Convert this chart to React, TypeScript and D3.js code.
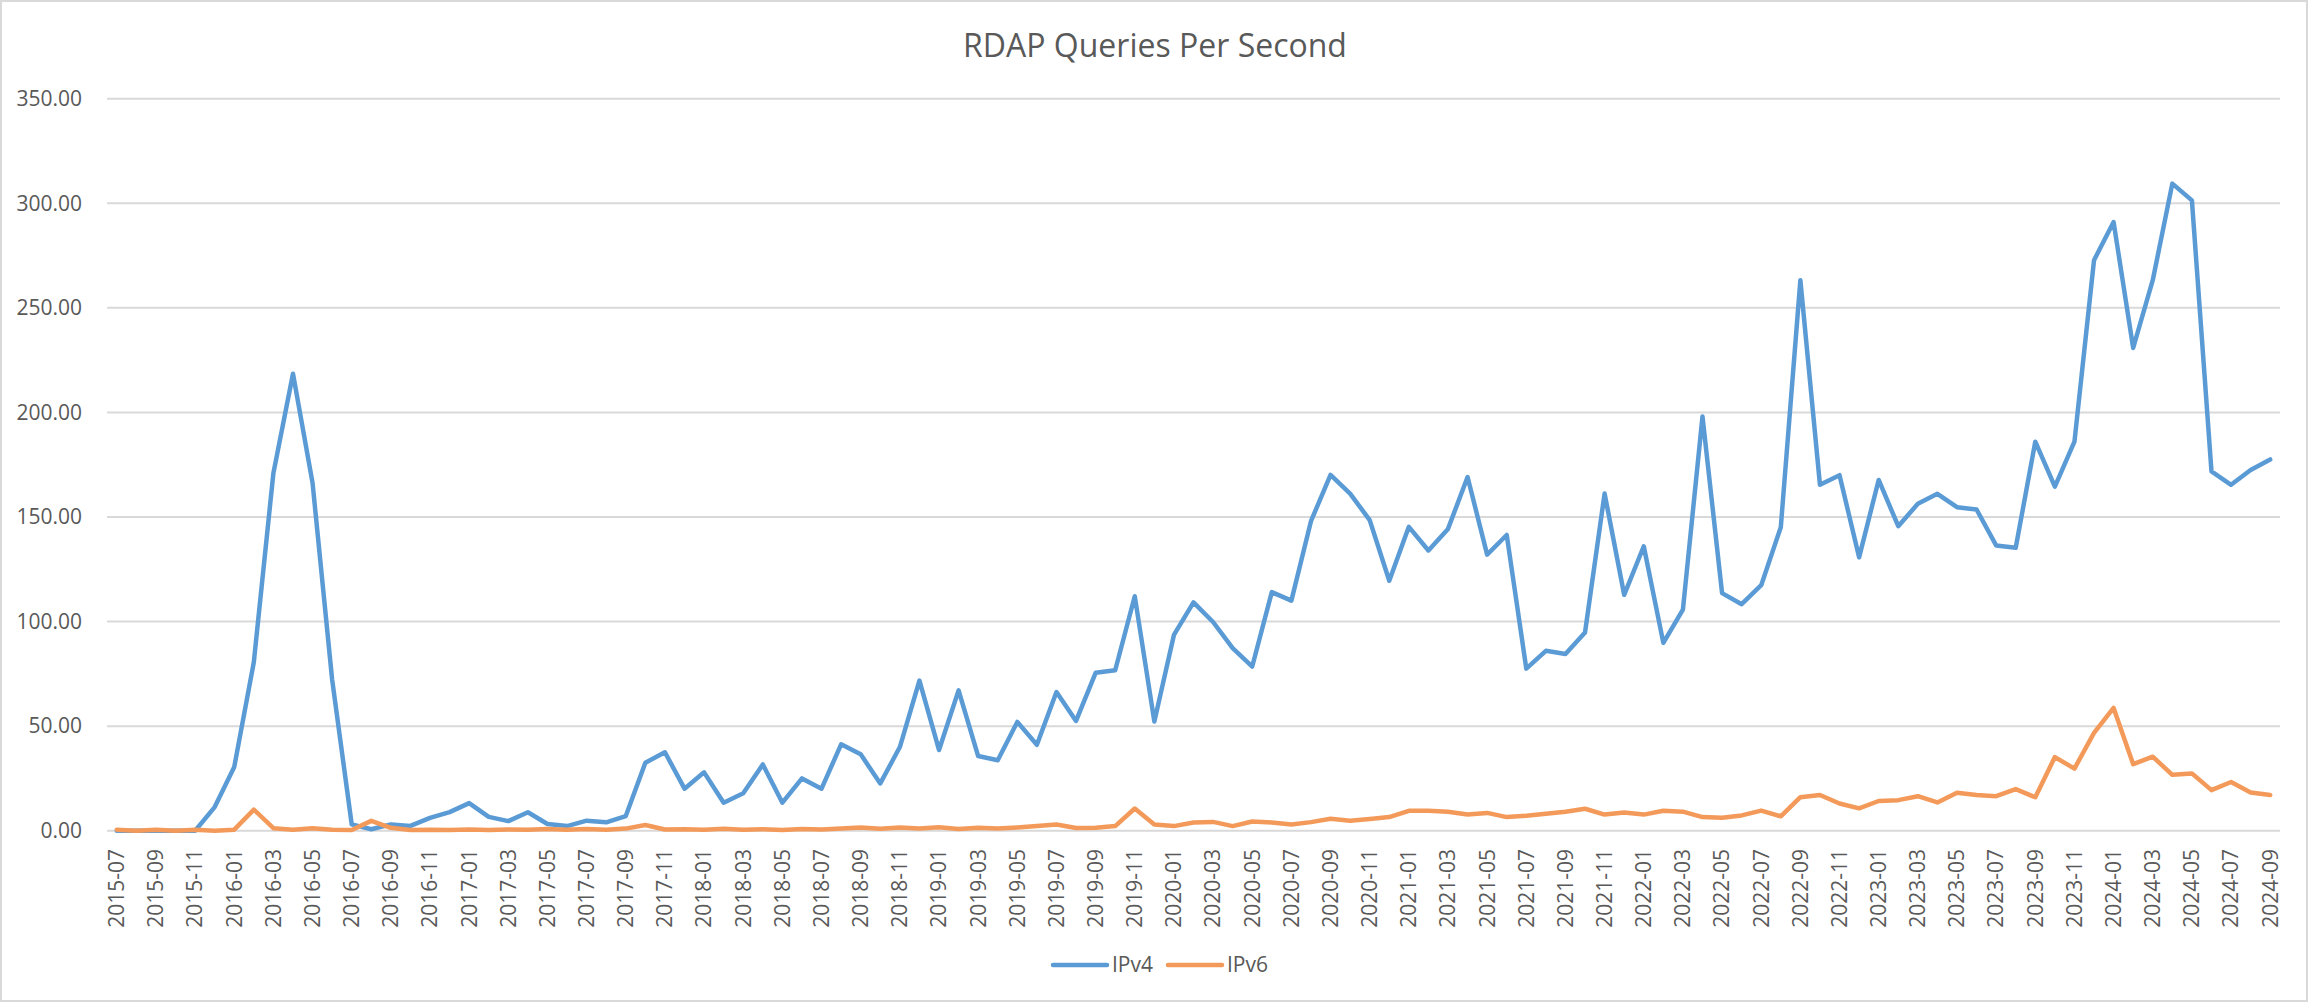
import React from 'react'
import * as d3 from 'd3'

const months = [
    '2015-07', '2015-08', '2015-09', '2015-10', '2015-11', '2015-12',
    '2016-01', '2016-02', '2016-03', '2016-04', '2016-05', '2016-06', '2016-07', '2016-08', '2016-09', '2016-10', '2016-11', '2016-12',
    '2017-01', '2017-02', '2017-03', '2017-04', '2017-05', '2017-06', '2017-07', '2017-08', '2017-09', '2017-10', '2017-11', '2017-12',
    '2018-01', '2018-02', '2018-03', '2018-04', '2018-05', '2018-06', '2018-07', '2018-08', '2018-09', '2018-10', '2018-11', '2018-12',
    '2019-01', '2019-02', '2019-03', '2019-04', '2019-05', '2019-06', '2019-07', '2019-08', '2019-09', '2019-10', '2019-11', '2019-12',
    '2020-01', '2020-02', '2020-03', '2020-04', '2020-05', '2020-06', '2020-07', '2020-08', '2020-09', '2020-10', '2020-11', '2020-12',
    '2021-01', '2021-02', '2021-03', '2021-04', '2021-05', '2021-06', '2021-07', '2021-08', '2021-09', '2021-10', '2021-11', '2021-12',
    '2022-01', '2022-02', '2022-03', '2022-04', '2022-05', '2022-06', '2022-07', '2022-08', '2022-09', '2022-10', '2022-11', '2022-12',
    '2023-01', '2023-02', '2023-03', '2023-04', '2023-05', '2023-06', '2023-07', '2023-08', '2023-09', '2023-10', '2023-11', '2023-12',
    '2024-01', '2024-02', '2024-03', '2024-04', '2024-05', '2024-06', '2024-07', '2024-08', '2024-09',
]

const ipv4 = [
    0, 0, 0, 0, 0, 11.3,
    30.5, 80.6, 171, 218.5, 166.3, 72.3, 3, 0.7, 3, 2.3, 6.1, 8.9,
    13.2, 6.6, 4.6, 8.8, 3.2, 2.2, 4.8, 4.0, 7.0, 32.5, 37.5, 20.1,
    27.9, 13.4, 17.9, 31.7, 13.4, 25.0, 20.1, 41.3, 36.5, 22.6, 40.0, 71.8,
    38.6, 67.1, 35.7, 33.7, 52.0, 41.1, 66.3, 52.5, 75.5, 76.7, 112.1, 52.2,
    93.6, 109.2, 99.8, 87.3, 78.5, 114.1, 110.0, 148, 170.1, 161.2, 148.5, 119.5,
    145.3, 134.0, 144.3, 169.1, 132.0, 141.4, 77.5, 86.0, 84.5, 94.8, 161.2, 112.8,
    136.0, 89.8, 105.7, 198, 113.6, 108.3, 117.4, 145.1, 263.2, 165.4, 170.0, 130.7,
    167.7, 145.6, 156.3, 161.1, 154.7, 153.6, 136.4, 135.3, 186.0, 164.5, 186.0, 272.8,
    291, 230.8, 263.2, 309.4, 301.4, 171.8, 165.4, 172.5, 177.5,
]

const ipv6 = [
    0.5, 0, 0.5, 0, 0.5, 0,
    0.5, 10.1, 1.2, 0.5, 1.2, 0.5, 0.3, 4.7, 1.4, 0.3, 0.5, 0.3,
    0.6, 0.3, 0.6, 0.4, 0.8, 0.4, 0.8, 0.5, 1.0, 2.7, 0.6, 0.7,
    0.5, 0.9, 0.4, 0.7, 0.3, 0.8, 0.6, 1.0, 1.5, 0.9, 1.5, 1.0,
    1.6, 0.8, 1.4, 1.0, 1.5, 2.2, 3.0, 1.3, 1.4, 2.2, 10.6, 3.0,
    2.2, 3.9, 4.2, 2.2, 4.4, 3.9, 3.0, 4.1, 5.7, 4.8, 5.6, 6.5,
    9.5, 9.5, 9.1, 7.7, 8.5, 6.5, 7.1, 8.1, 9.1, 10.5, 7.7, 8.7,
    7.7, 9.5, 9.1, 6.5, 6.2, 7.3, 9.6, 6.9, 16.0, 17.1, 13.0, 10.7,
    14.2, 14.6, 16.5, 13.5, 18.1, 17.1, 16.5, 19.9, 16.0, 35.2, 29.7, 46.8,
    58.7, 31.8, 35.4, 26.7, 27.4, 19.4, 23.3, 18.3, 17.1,
]

const yTicks = [0, 50, 100, 150, 200, 250, 300, 350]

const series = [
    { name: 'IPv4', values: ipv4, color: '#5B9BD5' },
    { name: 'IPv6', values: ipv6, color: '#F39A5B' },
]

const width = 2308
const height = 1002
const font = '"Open Sans", "Liberation Sans", sans-serif'
const textColor = '#595959'

export default function App() {
    const x = d3.scalePoint<string>().domain(months).range([107, 2280]).padding(0.5)
    const y = d3.scaleLinear().domain([0, 350]).range([830.7, 98.7])

    const line = d3
        .line<number>()
        .x((_, i) => x(months[i])!)
        .y((d) => y(d))

    // legend is centred under the plot
    const legendItem = 115
    const legendStart = 1053

    return (
        <svg width={width} height={height} style={{ position: 'absolute', left: 0, top: 0 }} fontFamily={font}>
            <rect x={0} y={0} width={width} height={height} fill="#fff" />
            <rect x={1} y={1} width={width - 2} height={height - 2} fill="none" stroke="#D9D9D9" strokeWidth={2} />

            <text x={1155} y={57} textAnchor="middle" fontSize={32} fill={textColor}>
                RDAP Queries Per Second
            </text>

            {/* gridlines + y labels */}
            {yTicks.map((t) => (
                <g key={t}>
                    <line x1={107} x2={2280} y1={y(t)} y2={y(t)} stroke="#D9D9D9" strokeWidth={2} />
                    <text x={82} y={y(t)} dy="0.35em" textAnchor="end" fontSize={21} fill={textColor}>
                        {d3.format('.2f')(t)}
                    </text>
                </g>
            ))}

            {/* x labels every 2 months */}
            {months.map((m, i) =>
                i % 2 === 0 ? (
                    <text
                        key={m}
                        transform={`translate(${x(m)}, 849) rotate(-90)`}
                        textAnchor="end"
                        dy="0.35em"
                        fontSize={21}
                        fill={textColor}
                    >
                        {m}
                    </text>
                ) : null
            )}

            {series.map((s) => (
                <path
                    key={s.name}
                    d={line(s.values)!}
                    fill="none"
                    stroke={s.color}
                    strokeWidth={4.5}
                    strokeLinejoin="round"
                    strokeLinecap="round"
                />
            ))}

            {series.map((s, i) => (
                <g key={s.name} transform={`translate(${legendStart + i * legendItem}, 965)`}>
                    <line x1={0} x2={54} y1={0} y2={0} stroke={s.color} strokeWidth={4.5} strokeLinecap="round" />
                    <text x={59} y={0} dy="0.35em" fontSize={21} fill={textColor}>
                        {s.name}
                    </text>
                </g>
            ))}
        </svg>
    )
}
